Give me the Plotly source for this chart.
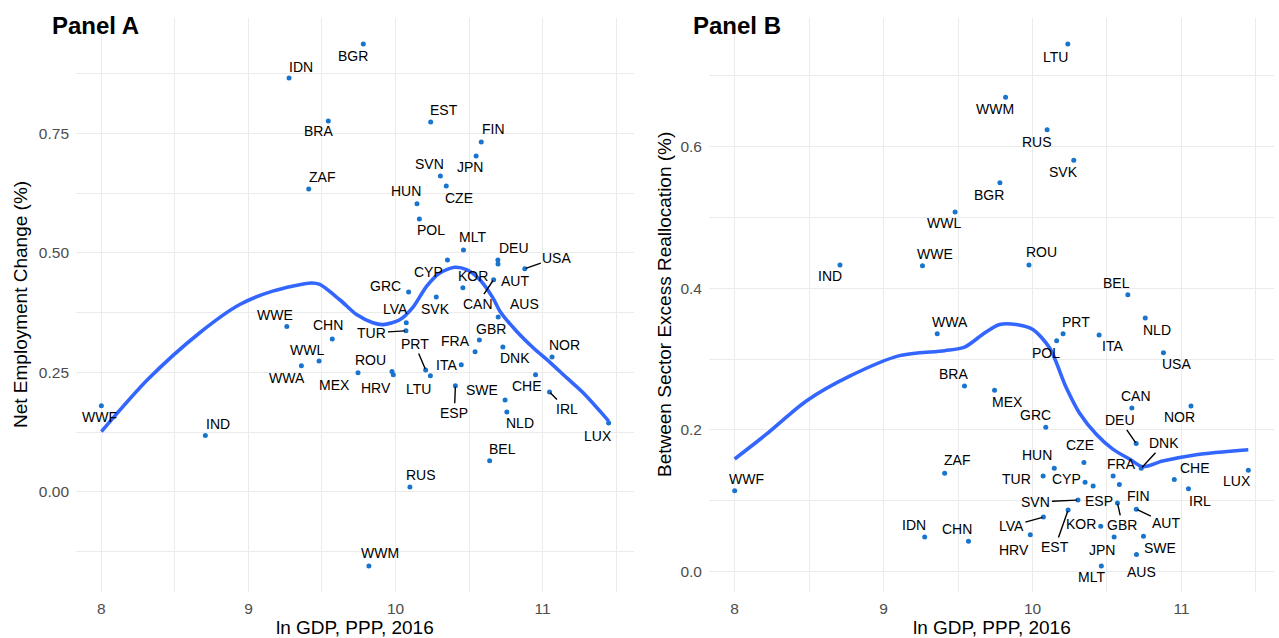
import plotly.graph_objects as go

# ---------------- data ----------------
countries = ["WWF", "IND", "WWE", "WWL", "WWA", "CHN", "ZAF", "IDN", "BRA", "BGR",
             "MEX", "ROU", "HRV", "WWM", "RUS", "TUR", "LVA", "GRC", "HUN", "POL",
             "PRT", "LTU", "EST", "SVN", "CZE", "SVK", "CYP", "ESP", "ITA", "MLT",
             "KOR", "FRA", "GBR", "JPN", "FIN", "BEL", "CAN", "DEU", "AUT", "AUS",
             "DNK", "SWE", "NLD", "USA", "CHE", "IRL", "NOR", "LUX"]

ln_gdp = [8.000, 8.707, 9.261, 9.480, 9.360, 9.570, 9.410, 9.276, 9.543, 9.781,
          9.745, 9.976, 9.985, 9.819, 10.098, 10.071, 10.073, 10.089, 10.146, 10.162,
          10.205, 10.237, 10.239, 10.305, 10.345, 10.277, 10.353, 10.407, 10.447, 10.462,
          10.458, 10.541, 10.570, 10.548, 10.583, 10.640, 10.667, 10.696, 10.697, 10.698,
          10.730, 10.745, 10.757, 10.879, 10.952, 11.047, 11.064, 11.449]

net_employment_change = [0.180, 0.118, 0.346, 0.274, 0.264, 0.320, 0.634, 0.866, 0.776, 0.937,
                         0.249, 0.252, 0.245, -0.155, 0.010, 0.337, 0.354, 0.418, 0.603, 0.571,
                         0.255, 0.243, 0.774, 0.661, 0.640, 0.408, 0.485, 0.222, 0.266, 0.506,
                         0.427, 0.293, 0.318, 0.703, 0.732, 0.065, 0.444, 0.485, 0.477, 0.366,
                         0.303, 0.192, 0.167, 0.467, 0.245, 0.209, 0.282, 0.144]

excess_reallocation = [0.114, 0.433, 0.432, 0.508, 0.336, 0.043, 0.139, 0.049, 0.262, 0.549,
                       0.256, 0.433, 0.052, 0.670, 0.624, 0.135, 0.077, 0.204, 0.146, 0.326,
                       0.336, 0.745, 0.087, 0.101, 0.154, 0.581, 0.126, 0.121, 0.334, 0.008,
                       0.064, 0.135, 0.097, 0.049, 0.123, 0.391, 0.231, 0.181, 0.088, 0.024,
                       0.146, 0.050, 0.358, 0.309, 0.130, 0.117, 0.234, 0.143]

# smoothed trend curves
trend_a_x = [8.000, 8.315, 8.669, 8.941, 9.165, 9.429, 9.485, 9.621, 9.735, 9.846,
             9.914, 10.029, 10.118, 10.211, 10.301, 10.403, 10.483, 10.573, 10.662, 10.710,
             10.823, 10.934, 11.050, 11.163, 11.274, 11.390, 11.449]
trend_a_y = [0.126, 0.235, 0.333, 0.392, 0.420, 0.437, 0.434, 0.402, 0.371, 0.354,
             0.350, 0.360, 0.386, 0.430, 0.458, 0.470, 0.465, 0.444, 0.406, 0.378,
             0.336, 0.302, 0.271, 0.239, 0.208, 0.169, 0.148]

trend_b_x = [8.000, 8.213, 8.481, 8.772, 9.107, 9.409, 9.544, 9.678, 9.779, 9.891,
             10.002, 10.114, 10.226, 10.315, 10.428, 10.539, 10.651, 10.740, 10.874, 11.099,
             11.449]
trend_b_y = [0.159, 0.194, 0.241, 0.276, 0.305, 0.312, 0.317, 0.337, 0.349, 0.349,
             0.342, 0.316, 0.260, 0.224, 0.194, 0.173, 0.159, 0.148, 0.156, 0.165,
             0.172]

x_ticks = [8, 9, 10, 11]
y_ticks_a = [0.0, 0.25, 0.50, 0.75]
y_ticks_b = [0.0, 0.2, 0.4, 0.6]

# ---------------- label placement (pixel offsets of label centre from point) ----------------
label_offsets_a = {
    "WWF": (-2, 11), "IND": (13, -11), "WWE": (-12, -12), "WWL": (-12, -11), "WWA": (-14, 12),
    "CHN": (-4, -14), "ZAF": (13, -12), "IDN": (12, -11), "BRA": (-10, 10), "BGR": (-10, 12),
    "MEX": (-24, 12), "ROU": (-21, -11), "HRV": (-17, 13), "WWM": (11, -13), "RUS": (11, -12),
    "TUR": (-34, 2), "LVA": (-11, -14), "GRC": (-23, -6), "HUN": (-11, -13), "POL": (12, 11),
    "PRT": (-11, -26), "LTU": (-12, 13), "EST": (13, -12), "SVN": (-11, -12), "CZE": (13, 12),
    "SVK": (-1, 12), "CYP": (-19, 12), "ESP": (-1, 27), "ITA": (-15, 0), "MLT": (9, -13),
    "KOR": (10, -12), "FRA": (-20, -11), "GBR": (12, -11), "JPN": (-6, 11), "FIN": (12, -13),
    "BEL": (13, -12), "CAN": (-16, 24), "DEU": (16, -12), "AUT": (17, 17), "AUS": (26, -13),
    "DNK": (12, 11), "SWE": (-23, -10), "NLD": (13, 11), "USA": (32, -11), "CHE": (-9, 11),
    "IRL": (17, 17), "NOR": (12, -12), "LUX": (-11, 13),
}
segments_a = {"USA", "CAN", "TUR", "PRT", "IRL", "ESP"}

label_offsets_b = {
    "WWF": (12, -12), "IND": (-10, 11), "WWE": (13, -12), "WWL": (-11, 11), "WWA": (13, -12),
    "CHN": (-11, -12), "ZAF": (12, -13), "IDN": (-11, -12), "BRA": (-11, -12), "BGR": (-11, 12),
    "MEX": (13, 12), "ROU": (13, -13), "HRV": (-16, 15), "WWM": (-11, 12), "RUS": (-10, 12),
    "TUR": (-27, 3), "LVA": (-32, 9), "GRC": (-10, -12), "HUN": (-17, -13), "POL": (-11, 12),
    "PRT": (13, -12), "LTU": (-12, 13), "EST": (-13, 37), "SVN": (-42, 2), "CZE": (-4, -18),
    "SVK": (-10, 12), "CYP": (-19, -3), "ESP": (6, 15), "ITA": (13, 11), "MLT": (-10, 11),
    "KOR": (-20, -2), "FRA": (8, -12), "GBR": (5, 22), "JPN": (-12, 13), "FIN": (19, 12),
    "BEL": (-11, -12), "CAN": (4, -12), "DEU": (-16, -23), "AUT": (30, 14), "AUS": (5, 17),
    "DNK": (23, -25), "SWE": (17, 12), "NLD": (12, 12), "USA": (13, 11), "CHE": (21, -12),
    "IRL": (12, 12), "NOR": (-11, 11), "LUX": (-11, 11),
}
segments_b = {"DEU", "DNK", "SVN", "GBR", "AUT", "LVA", "EST"}

# ---------------- style ----------------
FONT = "Liberation Sans, Arial, Helvetica, sans-serif"
POINT_COLOR = "#1874CD"
LINE_COLOR = "#3366FF"
GRID = "#EBEBEB"
LABEL_SIZE = 14
TICK_SIZE = 15.5
TITLE_SIZE = 19
W, H = 1279, 638
M_L, M_R, M_T, M_B = 76, 5, 18, 46
plot_w = W - M_L - M_R
plot_h = H - M_T - M_B


def expanded(vals, frac=0.05):
    lo, hi = min(vals), max(vals)
    d = (hi - lo) * frac
    return [lo - d, hi + d]


fig = go.Figure()

fig.add_trace(go.Scatter(x=ln_gdp, y=net_employment_change, mode="markers",
                         marker=dict(color=POINT_COLOR, size=5), xaxis="x", yaxis="y",
                         hoverinfo="text", text=countries, showlegend=False))
fig.add_trace(go.Scatter(x=trend_a_x, y=trend_a_y, mode="lines",
                         line=dict(color=LINE_COLOR, width=3.6, shape="spline", smoothing=0.8),
                         xaxis="x", yaxis="y", showlegend=False, hoverinfo="skip"))
fig.add_trace(go.Scatter(x=ln_gdp, y=excess_reallocation, mode="markers",
                         marker=dict(color=POINT_COLOR, size=5), xaxis="x2", yaxis="y2",
                         hoverinfo="text", text=countries, showlegend=False))
fig.add_trace(go.Scatter(x=trend_b_x, y=trend_b_y, mode="lines",
                         line=dict(color=LINE_COLOR, width=3.6, shape="spline", smoothing=0.8),
                         xaxis="x2", yaxis="y2", showlegend=False, hoverinfo="skip"))

annotations = []


def add_labels(yvals, offsets, segs, xref, yref):
    for c, xv, yv in zip(countries, ln_gdp, yvals):
        dx, dy = offsets[c]
        if c in segs:
            annotations.append(dict(x=xv, y=yv, xref=xref, yref=yref, text=c,
                                    showarrow=True, arrowhead=0, arrowwidth=1.4,
                                    arrowcolor="black", ax=dx, ay=dy, standoff=1,
                                    font=dict(family=FONT, size=LABEL_SIZE, color="black")))
        else:
            annotations.append(dict(x=xv, y=yv, xref=xref, yref=yref, text=c,
                                    showarrow=False, xshift=dx, yshift=-dy,
                                    font=dict(family=FONT, size=LABEL_SIZE, color="black")))


add_labels(net_employment_change, label_offsets_a, segments_a, "x", "y")
add_labels(excess_reallocation, label_offsets_b, segments_b, "x2", "y2")


def px_x(p):
    return (p - M_L) / plot_w


def px_y(p):
    return 1 - (p - M_T) / plot_h


# panel titles
annotations.append(dict(x=px_x(50), y=px_y(25), xref="paper", yref="paper", text="<b>Panel A</b>",
                        showarrow=False, xanchor="left", yanchor="middle",
                        font=dict(family=FONT, size=24, color="black")))
annotations.append(dict(x=px_x(691), y=px_y(25), xref="paper", yref="paper", text="<b>Panel B</b>",
                        showarrow=False, xanchor="left", yanchor="middle",
                        font=dict(family=FONT, size=24, color="black")))
# axis titles
annotations.append(dict(x=px_x(355), y=px_y(627), xref="paper", yref="paper", text="ln GDP, PPP, 2016",
                        showarrow=False, xanchor="center", yanchor="middle",
                        font=dict(family=FONT, size=TITLE_SIZE, color="black")))
annotations.append(dict(x=px_x(991.5), y=px_y(627), xref="paper", yref="paper", text="ln GDP, PPP, 2016",
                        showarrow=False, xanchor="center", yanchor="middle",
                        font=dict(family=FONT, size=TITLE_SIZE, color="black")))
annotations.append(dict(x=px_x(20), y=0.5, xref="paper", yref="paper", text="Net Employment Change (%)",
                        showarrow=False, xanchor="center", yanchor="middle", textangle=-90,
                        font=dict(family=FONT, size=TITLE_SIZE, color="black")))
annotations.append(dict(x=px_x(664), y=0.5, xref="paper", yref="paper",
                        text="Between Sector Excess Reallocation (%)",
                        showarrow=False, xanchor="center", yanchor="middle", textangle=-90,
                        font=dict(family=FONT, size=TITLE_SIZE, color="black")))

xr = expanded(ln_gdp)
common_x = dict(range=xr, tickvals=x_ticks, ticktext=[str(v) for v in x_ticks],
                showgrid=True, gridcolor=GRID, gridwidth=1.1, zeroline=False, showline=False,
                ticks="", ticklabelstandoff=5,
                tickfont=dict(family=FONT, size=TICK_SIZE, color="#4D4D4D"),
                minor=dict(tick0=8.5, dtick=1, showgrid=True, gridcolor=GRID, gridwidth=0.8))

fig.update_layout(
    width=W, height=H,
    margin=dict(l=M_L, r=M_R, t=M_T, b=M_B),
    paper_bgcolor="white", plot_bgcolor="white",
    showlegend=False,
    xaxis=dict(domain=[0, px_x(634)], anchor="y", **common_x),
    xaxis2=dict(domain=[px_x(709), 1], anchor="y2", **common_x),
    yaxis=dict(domain=[0, 1], anchor="x", range=expanded(net_employment_change),
               tickvals=y_ticks_a, ticktext=["0.00", "0.25", "0.50", "0.75"],
               showgrid=True, gridcolor=GRID, gridwidth=1.1, zeroline=False, showline=False,
               ticks="", ticklabelstandoff=6,
               tickfont=dict(family=FONT, size=TICK_SIZE, color="#4D4D4D"),
               minor=dict(tick0=0.125, dtick=0.25, showgrid=True, gridcolor=GRID, gridwidth=0.8)),
    yaxis2=dict(domain=[0, 1], anchor="x2", range=expanded(excess_reallocation),
                tickvals=y_ticks_b, ticktext=["0.0", "0.2", "0.4", "0.6"],
                showgrid=True, gridcolor=GRID, gridwidth=1.1, zeroline=False, showline=False,
                ticks="", ticklabelstandoff=6,
                tickfont=dict(family=FONT, size=TICK_SIZE, color="#4D4D4D"),
                minor=dict(tick0=0.1, dtick=0.2, showgrid=True, gridcolor=GRID, gridwidth=0.8)),
    annotations=annotations,
)

fig.write_html("out.html", config={"displayModeBar": False},
               post_script="document.body.style.margin='0';document.body.style.padding='0';"
                           "document.body.style.overflow='hidden';")
